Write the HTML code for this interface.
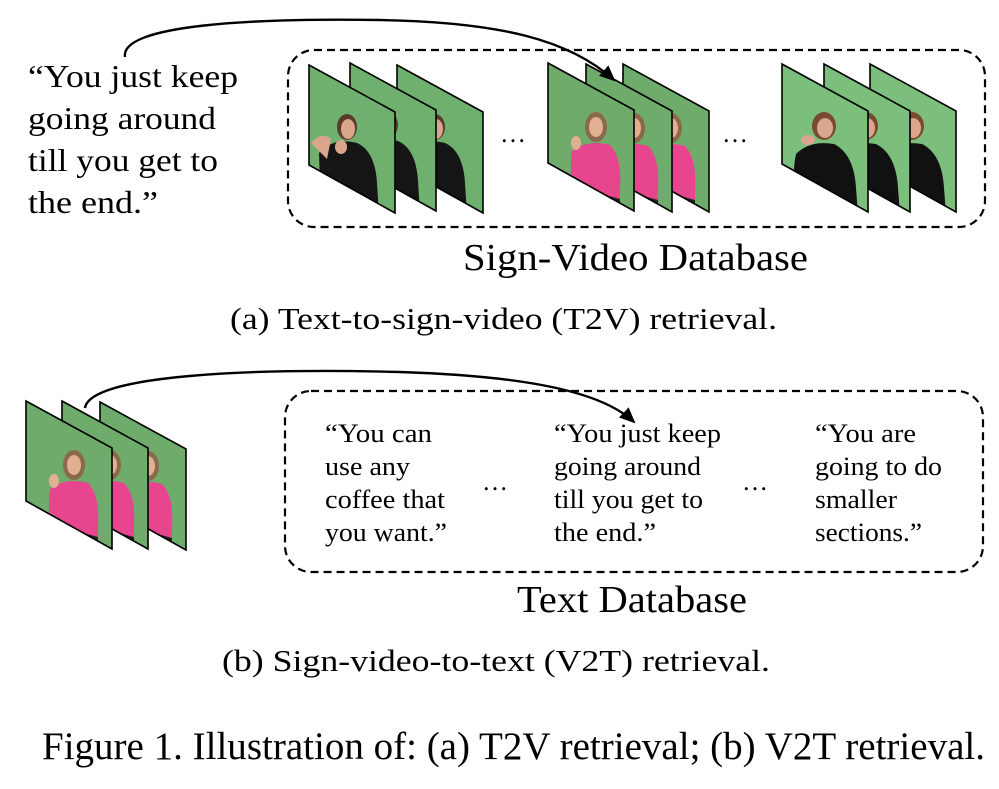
<!DOCTYPE html>
<html><head><meta charset="utf-8"><style>
body{margin:0;background:#fff;width:999px;height:789px;overflow:hidden}
svg{display:block}
text{font-family:"Liberation Serif",serif;fill:#000}
</style></head><body>
<svg width="999" height="789" viewBox="0 0 999 789" xmlns="http://www.w3.org/2000/svg">
<defs>
<clipPath id="fc"><polygon points="0,0 86,47 86,148 0,100"/></clipPath>
<g id="fb">
 <polygon points="0,0 86,47 86,148 0,100" fill="#6fb06f"/>
 <g clip-path="url(#fc)">
  <ellipse cx="38" cy="62" rx="10" ry="13" fill="#5a3a28"/>
  <ellipse cx="39" cy="64" rx="7" ry="10" fill="#d9a58c"/>
  <path d="M10,88 Q24,72 48,78 Q66,86 68,118 L70,150 L12,150 Z" fill="#151515"/>
  <path d="M2,78 Q12,66 22,74 L18,94 Z" fill="#d9a58c"/>
  <ellipse cx="32" cy="82" rx="6" ry="7" fill="#d9a58c"/>
  <path d="M20,140 L60,150 L20,150 Z" fill="#9bb8c8"/>
 </g>
 <polygon points="0,0 86,47 86,148 0,100" fill="none" stroke="#000" stroke-width="1.6"/>
</g>
<g id="fp">
 <polygon points="0,0 86,47 86,148 0,100" fill="#6fab6b"/>
 <g clip-path="url(#fc)">
  <ellipse cx="48" cy="64" rx="11" ry="15" fill="#8a6a4a"/>
  <ellipse cx="48" cy="64" rx="7" ry="10" fill="#e0b090"/>
  <path d="M24,88 Q40,76 62,82 Q74,94 72,126 L72,150 L30,150 Q20,115 24,88 Z" fill="#e8458f"/>
  <path d="M28,124 L72,136 L72,150 L28,150 Z" fill="#222"/>
  <ellipse cx="28" cy="80" rx="5" ry="7" fill="#e0b090"/>
 </g>
 <polygon points="0,0 86,47 86,148 0,100" fill="none" stroke="#000" stroke-width="1.6"/>
</g>
<g id="fk">
 <polygon points="0,0 86,47 86,148 0,100" fill="#7cbf7c"/>
 <g clip-path="url(#fc)">
  <ellipse cx="42" cy="62" rx="12" ry="14" fill="#7a4a30"/>
  <ellipse cx="43" cy="64" rx="8" ry="10" fill="#d9a58c"/>
  <path d="M14,90 Q28,76 52,80 Q72,90 74,124 L76,150 L18,150 Q8,118 14,90 Z" fill="#111"/>
  <ellipse cx="26" cy="76" rx="7" ry="5" fill="#d9a58c"/>
 </g>
 <polygon points="0,0 86,47 86,148 0,100" fill="none" stroke="#000" stroke-width="1.6"/>
</g>
<marker id="ah" markerWidth="16" markerHeight="14" refX="14" refY="7" orient="auto" markerUnits="userSpaceOnUse"><path d="M0,0 L16,7 L0,14 Z" fill="#000"/></marker>
</defs>

<!-- Part a -->
<rect x="288" y="50" width="697" height="177" rx="26" fill="none" stroke="#000" stroke-width="2.2" stroke-dasharray="8,5"/>
<g font-size="32" lengthAdjust="spacingAndGlyphs">
<text x="28" y="87" textLength="210" lengthAdjust="spacingAndGlyphs" font-size="32">“You just keep</text>
<text x="28" y="129" textLength="188" lengthAdjust="spacingAndGlyphs" font-size="32">going around</text>
<text x="28" y="171" textLength="190" lengthAdjust="spacingAndGlyphs" font-size="32">till you get to</text>
<text x="28" y="213" textLength="130" lengthAdjust="spacingAndGlyphs" font-size="32">the end.”</text>
</g>
<use href="#fb" x="397" y="65"/><use href="#fb" x="350" y="63"/><use href="#fb" x="309" y="65"/>
<text x="500" y="142" font-size="26">…</text>
<use href="#fp" x="623" y="64"/><use href="#fp" x="586" y="64"/><use href="#fp" x="548" y="63"/>
<text x="722" y="142" font-size="26">…</text>
<use href="#fk" x="870" y="64"/><use href="#fk" x="824" y="64"/><use href="#fk" x="782" y="64"/>
<path d="M125,57 C120,25 250,18 380,20 C500,22 570,40 614,80" fill="none" stroke="#000" stroke-width="2.4" marker-end="url(#ah)"/>
<text x="463" y="270" font-size="38" textLength="345" lengthAdjust="spacingAndGlyphs">Sign-Video Database</text>
<text x="230" y="329" font-size="31" textLength="547" lengthAdjust="spacingAndGlyphs">(a) Text-to-sign-video (T2V) retrieval.</text>

<!-- Part b -->
<rect x="285" y="391" width="698" height="181" rx="26" fill="none" stroke="#000" stroke-width="2.2" stroke-dasharray="8,5"/>
<use href="#fp" x="100" y="402"/><use href="#fp" x="62" y="401"/><use href="#fp" x="26" y="401"/>
<path d="M85,408 C90,375 250,368 400,372 C520,376 600,390 634,422" fill="none" stroke="#000" stroke-width="2.4" marker-end="url(#ah)"/>
<text x="325" y="442" font-size="26" textLength="107" lengthAdjust="spacingAndGlyphs">“You can</text>
<text x="325" y="475" font-size="26" textLength="85" lengthAdjust="spacingAndGlyphs">use any</text>
<text x="325" y="508" font-size="26" textLength="120" lengthAdjust="spacingAndGlyphs">coffee that</text>
<text x="325" y="541" font-size="26" textLength="122" lengthAdjust="spacingAndGlyphs">you want.”</text>
<text x="482" y="490" font-size="26">…</text>
<text x="554" y="442" font-size="26" textLength="167" lengthAdjust="spacingAndGlyphs">“You just keep</text>
<text x="554" y="475" font-size="26" textLength="147" lengthAdjust="spacingAndGlyphs">going around</text>
<text x="554" y="508" font-size="26" textLength="149" lengthAdjust="spacingAndGlyphs">till you get to</text>
<text x="554" y="541" font-size="26" textLength="102" lengthAdjust="spacingAndGlyphs">the end.”</text>
<text x="742" y="490" font-size="26">…</text>
<text x="815" y="442" font-size="26" textLength="101" lengthAdjust="spacingAndGlyphs">“You are</text>
<text x="815" y="475" font-size="26" textLength="127" lengthAdjust="spacingAndGlyphs">going to do</text>
<text x="815" y="508" font-size="26" textLength="82" lengthAdjust="spacingAndGlyphs">smaller</text>
<text x="815" y="541" font-size="26" textLength="107" lengthAdjust="spacingAndGlyphs">sections.”</text>
<text x="517" y="612" font-size="38" textLength="230" lengthAdjust="spacingAndGlyphs">Text Database</text>
<text x="222" y="671" font-size="31" textLength="548" lengthAdjust="spacingAndGlyphs">(b) Sign-video-to-text (V2T) retrieval.</text>

<text x="42" y="759" font-size="39" textLength="943" lengthAdjust="spacingAndGlyphs">Figure 1. Illustration of: (a) T2V retrieval; (b) V2T retrieval.</text>
</svg>
</body></html>
